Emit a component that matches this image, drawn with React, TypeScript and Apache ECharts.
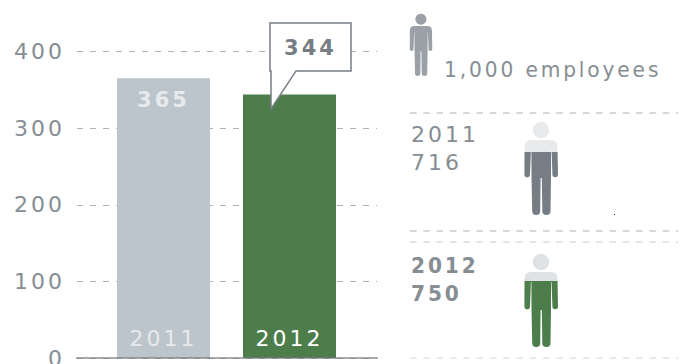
import React, { useEffect, useRef } from "react";
import * as echarts from "echarts";

const years = ["2011", "2012"];
const revenue = [365, 344];
const employees = [716, 750];
const yMin = 0;
const yMax = 400;
const yStep = 100;
const legendText = "1,000 employees";

const FONT = "DejaVu Sans";
const INK = "#868d93";
const SLATE = "#767d84";
const GREEN = "#4c7d4b";
const SILVER = "#bdc5cc";

// Outline of a standing figure, 34 units wide and 93 tall.
const FIGURE =
  "M17 -0.2 A8.2 8.2 0 1 1 16.99 -0.2 Z " +
  "M7 18 H27 Q33.5 18 33.5 25 L34 52.5 A2.8 2.8 0 0 1 28.4 52.5 L27.6 28 L27.1 28 L27 54 L26.5 89 " +
  "A4 4 0 0 1 18.3 89 L17.8 56 L16.6 56 L16.2 89 A4 4 0 0 1 8.2 89 L7.5 54 L7.4 28 L6.9 28 L6 52.5 " +
  "A2.8 2.8 0 0 1 0.4 52.5 L0.5 25 Q0.5 18 7 18 Z";
echarts.graphic.registerShape("person", (echarts.graphic as any).extendPath(FIGURE, {}));

// The fill rises with the headcount, up to the figure's full 1,000 scale.
const fillFraction = (v: number) => v / 1060;

const twoTone = (v: number, top: string, bottom: string) => {
  const at = 1 - fillFraction(v);
  return new echarts.graphic.LinearGradient(0, 0, 0, 1, [
    { offset: 0, color: top },
    { offset: at, color: top },
    { offset: at, color: bottom },
    { offset: 1, color: bottom },
  ]);
};

const dashed = (y: number, stroke: string) => ({
  type: "line",
  silent: true,
  shape: { x1: 410, y1: y, x2: 678, y2: y },
  style: { stroke, lineWidth: 1, lineDash: [6.5, 6.8] },
});

const label = (
  text: string,
  x: number,
  y: number,
  opts: { fontSize?: number; fontWeight?: number; scaleX?: number } = {},
) => ({
  type: "text",
  x,
  y,
  scaleX: opts.scaleX ?? 1,
  style: {
    text,
    fill: INK,
    fontFamily: FONT,
    fontSize: opts.fontSize ?? 22,
    fontWeight: opts.fontWeight ?? 400,
    verticalAlign: "middle",
  },
});

export default function App() {
  const ref = useRef<HTMLDivElement>(null);
  useEffect(() => {
    const chart = echarts.init(ref.current!, undefined, { renderer: "svg" });
    chart.setOption({
      animation: false,
      backgroundColor: "#ffffff",
      grid: [
        { left: 77, width: 300, top: 51.5, height: 306.5, outerBoundsMode: "none" },
        { left: 100.5, width: 252, top: 51.5, height: 306.5, outerBoundsMode: "none" },
      ],
      xAxis: [
        {
          gridIndex: 0,
          type: "category",
          data: [""],
          z: 5,
          axisTick: { show: false },
          axisLabel: { show: false },
          axisLine: { lineStyle: { color: "rgba(112,120,128,0.62)", width: 2 } },
        },
        {
          gridIndex: 1,
          type: "category",
          data: years,
          z: 6,
          axisTick: { show: false },
          axisLine: { show: false },
          axisLabel: {
            inside: true,
            margin: 9,
            fontFamily: FONT,
            fontSize: 22,
            color: (_: string, i: number) => (i === 0 ? "#e7eaed" : "#ffffff"),
            fontWeight: 400,
          },
        },
      ],
      yAxis: [
        {
          gridIndex: 0,
          type: "value",
          min: yMin,
          max: yMax,
          interval: yStep,
          z: 0,
          axisLine: { show: false },
          axisTick: { show: false },
          axisLabel: { margin: 12, fontFamily: FONT, fontSize: 22, color: INK },
          splitLine: { lineStyle: { color: "#b0b2b4", width: 1, type: [6, 7] } },
        },
        { gridIndex: 1, type: "value", min: yMin, max: yMax, interval: yStep, show: false },
      ],
      series: [
        {
          type: "bar",
          xAxisIndex: 1,
          yAxisIndex: 1,
          barWidth: 93,
          z: 2,
          data: [
            {
              value: revenue[0],
              itemStyle: { color: SILVER },
              label: {
                show: true,
                position: "insideTop",
                distance: 11,
                formatter: "{c}",
                fontFamily: FONT,
                fontSize: 21,
                fontWeight: 700,
                color: "#e7eaed",
              },
            },
            { value: revenue[1], itemStyle: { color: GREEN } },
          ],
        },
      ],
    });

    // The callout hangs off the 2012 bar's top edge.
    const [ax, ay] = chart.convertToPixel({ seriesIndex: 0 }, [1, revenue[1]]);
    const tipX = ax - 18.5;
    const tipY = ay + 14.5;
    const boxL = tipX - 1;
    const boxR = tipX + 80;
    const boxT = ay - 71.5;
    const boxB = ay - 23.5;

    chart.setOption({
      graphic: [
        {
          type: "polygon",
          z: 10,
          shape: {
            points: [
              [boxL, boxT],
              [boxR, boxT],
              [boxR, boxB],
              [tipX + 25, boxB],
              [tipX, tipY],
              [tipX, boxB],
              [boxL, boxB],
            ],
          },
          style: { fill: "#ffffff", stroke: SLATE, lineWidth: 1.5 },
        },
        {
          type: "text",
          z: 11,
          x: (boxL + boxR) / 2,
          y: (boxT + boxB) / 2 + 1,
          style: {
            text: String(revenue[1]),
            fill: SLATE,
            fontFamily: FONT,
            fontSize: 21,
            fontWeight: 700,
            align: "center",
            verticalAlign: "middle",
          },
        },
        { type: "person", x: 409.5, y: 14, scaleX: 0.67, scaleY: 0.667, style: { fill: "#9aa0a5" } },
        label(legendText, 444, 70, { fontSize: 21, scaleX: 0.96 }),
        dashed(113, "#aeb0b2"),
        label(years[0], 411, 134),
        label(String(employees[0]), 411, 162),
        {
          type: "person",
          x: 524,
          y: 122,
          style: { fill: twoTone(employees[0], "#e9eaec", "#767d84") },
        },
        { type: "rect", shape: { x: 614, y: 214, width: 1, height: 1 }, style: { fill: "#222" } },
        dashed(231, "#aeb0b2"),
        dashed(242, "#c8cacc"),
        label(years[1], 411, 266, { fontSize: 21, fontWeight: 700, scaleX: 0.96 }),
        label(String(employees[1]), 411, 294, { fontSize: 21, fontWeight: 700, scaleX: 0.96 }),
        {
          type: "person",
          x: 524,
          y: 254,
          style: { fill: twoTone(employees[1], "#dfe2e5", GREEN) },
        },
        dashed(358, "#d2d3d5"),
      ],
    });
    return () => chart.dispose();
  }, []);
  return (
    <div
      ref={ref}
      style={{ position: "absolute", left: 0, top: 0, width: 685, height: 364, letterSpacing: "3px" }}
    />
  );
}
